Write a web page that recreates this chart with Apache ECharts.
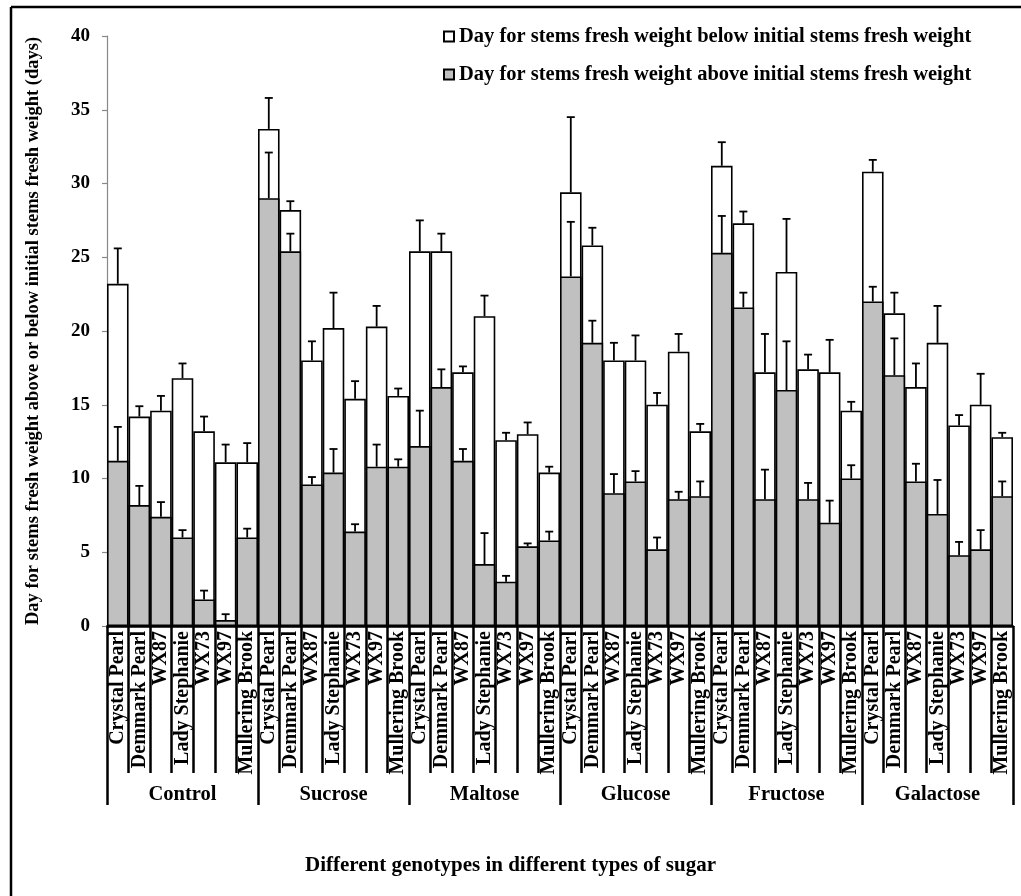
<!DOCTYPE html>
<html>
<head>
<meta charset="utf-8">
<script src="https://cdn.jsdelivr.net/npm/echarts@6/dist/echarts.min.js"></script>
<style>
html,body{margin:0;padding:0;background:#fff;}
#chart{width:1021px;height:896px;}
</style>
</head>
<body>
<div id="chart"></div>
<script>
var groups = ['Control', 'Sucrose', 'Maltose', 'Glucose', 'Fructose', 'Galactose'];
var genotypes = ['Crystal Pearl', 'Demmark Pearl', 'WX87', 'Lady Stephanie', 'WX73', 'WX97', 'Mullering Brook'];
var yTicks = [0, 5, 10, 15, 20, 25, 30, 35, 40];

// Day for stems fresh weight below initial stems fresh weight (white bar top)
var belowValues = [
  23.2, 14.2, 14.6, 16.8, 13.2, 11.1, 11.1,
  33.7, 28.2, 18.0, 20.2, 15.4, 20.3, 15.6,
  25.4, 25.4, 17.2, 21.0, 12.6, 13.0, 10.4,
  29.4, 25.8, 18.0, 18.0, 15.0, 18.6, 13.2,
  31.2, 27.3, 17.2, 24.0, 17.4, 17.2, 14.6,
  30.8, 21.2, 16.2, 19.2, 13.6, 15.0, 12.8
];
var belowErrTop = [
  25.6, 14.9, 15.6, 17.8, 14.2, 12.3, 12.4,
  35.8, 28.8, 19.3, 22.6, 16.6, 21.7, 16.1,
  27.5, 26.6, 17.6, 22.4, 13.1, 13.8, 10.8,
  34.5, 27.0, 19.2, 19.7, 15.8, 19.8, 13.7,
  32.8, 28.1, 19.8, 27.6, 18.4, 19.4, 15.2,
  31.6, 22.6, 17.8, 21.7, 14.3, 17.1, 13.1
];
// Day for stems fresh weight above initial stems fresh weight (grey bar top)
var aboveValues = [
  11.2, 8.2, 7.4, 6.0, 1.8, 0.4, 6.0,
  29.0, 25.4, 9.6, 10.4, 6.4, 10.8, 10.8,
  12.2, 16.2, 11.2, 4.2, 3.0, 5.4, 5.8,
  23.7, 19.2, 9.0, 9.8, 5.2, 8.6, 8.8,
  25.3, 21.6, 8.6, 16.0, 8.6, 7.0, 10.0,
  22.0, 17.0, 9.8, 7.6, 4.8, 5.2, 8.8
];
var aboveErrTop = [
  13.5, 9.5, 8.4, 6.5, 2.4, 0.8, 6.6,
  32.1, 26.6, 10.1, 12.0, 6.9, 12.3, 11.3,
  14.6, 17.4, 12.0, 6.3, 3.4, 5.6, 6.4,
  27.4, 20.7, 10.3, 10.5, 6.0, 9.1, 9.8,
  27.8, 22.6, 10.6, 19.3, 9.7, 8.5, 10.9,
  23.0, 19.5, 11.0, 9.9, 5.7, 6.5, 9.8
];

var FONT = '"Liberation Serif", "Times New Roman", serif';

var cats = [];
groups.forEach(function (g) {
  genotypes.forEach(function (t) { cats.push(g + '|' + t); });
});

function errData(vals, tops) {
  return vals.map(function (v, i) { return [i, v, tops[i]]; });
}

function renderErr(params, api) {
  var x = api.value(0);
  var lo = api.coord([x, api.value(1)]);
  var hi = api.coord([x, api.value(2)]);
  var cap = 4;
  return {
    type: 'group',
    children: [
      { type: 'line', shape: { x1: lo[0], y1: lo[1], x2: hi[0], y2: hi[1] }, style: { stroke: '#000', lineWidth: 1.8 } },
      { type: 'line', shape: { x1: hi[0] - cap, y1: hi[1], x2: hi[0] + cap, y2: hi[1] }, style: { stroke: '#000', lineWidth: 1.8 } }
    ]
  };
}

var chart = echarts.init(document.getElementById('chart'), null, { renderer: 'canvas' });

var option = {
  animation: false,
  backgroundColor: '#fff',
  textStyle: { fontFamily: FONT },
  grid: { left: 107, right: 8, top: 36, bottom: 270, containLabel: false },
  legend: {
    orient: 'vertical',
    left: 443,
    top: 26,
    padding: 0,
    itemWidth: 10,
    itemHeight: 10,
    itemGap: 17,
    icon: 'rect',
    data: ['Day for stems fresh weight below initial stems fresh weight', 'Day for stems fresh weight above initial stems fresh weight'],
    textStyle: { fontFamily: FONT, fontWeight: 'bold', fontSize: 20.5, color: '#000', padding: 0 }
  },
  xAxis: [
    {
      type: 'category',
      data: cats,
      position: 'bottom',
      boundaryGap: true,
      axisLine: { show: true, lineStyle: { color: '#000', width: 2.5 } },
      axisTick: { show: true, interval: 0, length: 147, lineStyle: { color: '#000', width: 2.5 } },
      axisLabel: {
        interval: 0, rotate: 90, margin: 5, color: '#000',
        fontFamily: FONT, fontWeight: 'bold', fontSize: 20,
        formatter: function (v) { return v.split('|')[1]; }
      },
      splitLine: { show: false }
    },
    {
      type: 'category',
      data: groups,
      position: 'bottom',
      boundaryGap: true,
      axisLine: { show: false },
      axisTick: { show: true, interval: 0, length: 179, lineStyle: { color: '#000', width: 2.5 } },
      axisLabel: { interval: 0, margin: 158, color: '#000', fontFamily: FONT, fontWeight: 'bold', fontSize: 20.5 },
      splitLine: { show: false }
    }
  ],
  yAxis: {
    type: 'value',
    min: yTicks[0],
    max: yTicks[yTicks.length - 1],
    interval: 5,
    name: 'Day for stems fresh weight above or below initial stems fresh weight (days)',
    nameLocation: 'middle',
    nameGap: 64,
    nameTextStyle: { fontFamily: FONT, fontWeight: 'bold', fontSize: 18.5, color: '#000' },
    axisLine: { show: true, lineStyle: { color: '#888', width: 1.2 } },
    axisTick: { show: true, length: 5, lineStyle: { color: '#888', width: 1.2 } },
    axisLabel: { color: '#000', fontFamily: FONT, fontWeight: 'bold', fontSize: 19, margin: 17 },
    splitLine: { show: false }
  },
  series: [
    {
      name: 'Day for stems fresh weight below initial stems fresh weight',
      type: 'bar',
      data: belowValues,
      barGap: '-100%',
      barCategoryGap: '0%',
      itemStyle: { color: '#ffffff', borderColor: '#000', borderWidth: 1.6 },
      z: 2
    },
    {
      name: 'Day for stems fresh weight above initial stems fresh weight',
      type: 'bar',
      data: aboveValues,
      barGap: '-100%',
      barCategoryGap: '0%',
      itemStyle: { color: '#c0c0c0', borderColor: '#000', borderWidth: 1.6 },
      z: 3
    },
    {
      type: 'custom',
      renderItem: renderErr,
      data: errData(belowValues, belowErrTop),
      encode: { x: 0, y: [1, 2] },
      z: 4,
      silent: true
    },
    {
      type: 'custom',
      renderItem: renderErr,
      data: errData(aboveValues, aboveErrTop),
      encode: { x: 0, y: [1, 2] },
      z: 5,
      silent: true
    }
  ],
  graphic: [
    { type: 'line', shape: { x1: 11, y1: 7, x2: 1021, y2: 7 }, style: { stroke: '#000', lineWidth: 2.5 } },
    { type: 'line', shape: { x1: 11, y1: 7, x2: 11, y2: 896 }, style: { stroke: '#000', lineWidth: 2.5 } },
    {
      type: 'text', left: 'center', top: 855,
      style: { text: 'Different genotypes in different types of sugar', fontFamily: FONT, fontWeight: 'bold', fontSize: 21, fill: '#000' }
    }
  ]
};
chart.setOption(option);
</script>
</body>
</html>
